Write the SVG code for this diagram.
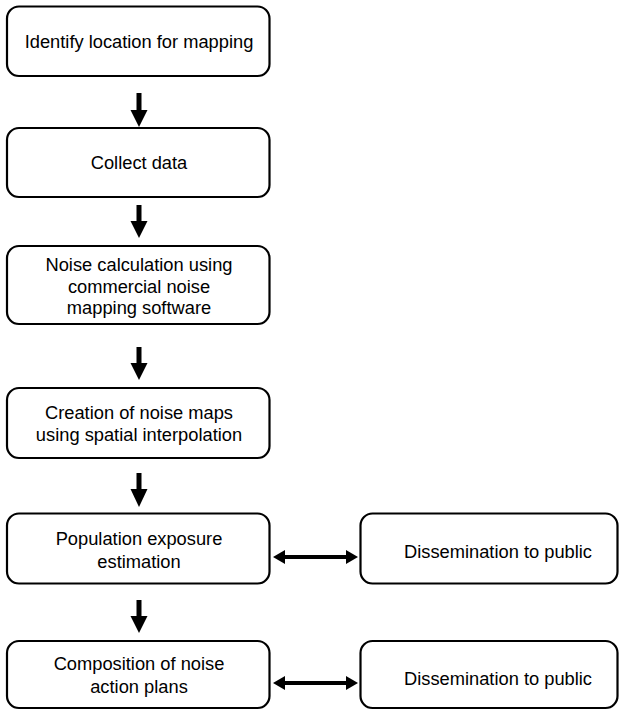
<svg xmlns="http://www.w3.org/2000/svg" width="619" height="711" viewBox="0 0 619 711">
<style>
.box{fill:#fff;stroke:#000;stroke-width:2.2}
.t{font-family:"Liberation Sans",Arial,sans-serif;font-size:18.3px;fill:#000;text-anchor:middle}
.shaft{stroke:#000;stroke-width:5;fill:none}
.dshaft{stroke:#000;stroke-width:4;fill:none}
.head{fill:#000}
</style>
<rect width="619" height="711" fill="#fff"/>
<g id="n1"><rect class="box" x="7" y="6.5" width="262.5" height="69.5" rx="12"/><text class="t" x="139" y="48">Identify location for mapping</text></g>
<g id="n2"><rect class="box" x="7" y="128" width="262.5" height="69" rx="12"/><text class="t" x="139" y="169">Collect data</text></g>
<g id="n3"><rect class="box" x="7" y="246" width="262.5" height="78" rx="12"/><text class="t" x="139" y="271">Noise calculation using</text><text class="t" x="139" y="292.5">commercial noise</text><text class="t" x="139" y="314">mapping software</text></g>
<g id="n4"><rect class="box" x="7" y="388" width="262.5" height="70" rx="12"/><text class="t" x="139" y="419">Creation of noise maps</text><text class="t" x="139" y="441">using spatial interpolation</text></g>
<g id="n5"><rect class="box" x="7" y="513.5" width="262.5" height="70" rx="12"/><text class="t" x="139" y="545">Population exposure</text><text class="t" x="139" y="567.5">estimation</text></g>
<g id="n6"><rect class="box" x="7" y="641" width="262.5" height="67" rx="12"/><text class="t" x="139" y="670">Composition of noise</text><text class="t" x="139" y="692.5">action plans</text></g>
<g id="n7"><rect class="box" x="360.5" y="513.5" width="257" height="70" rx="12"/><text class="t" x="498" y="558">Dissemination to public</text></g>
<g id="n8"><rect class="box" x="360.5" y="641" width="257" height="67" rx="12"/><text class="t" x="498" y="685">Dissemination to public</text></g>
<g id="connectors">
<line class="shaft" x1="139" y1="93" x2="139" y2="111"/><polygon class="head" points="130.5,110 147.5,110 139,127"/>
<line class="shaft" x1="139" y1="205" x2="139" y2="222"/><polygon class="head" points="130.5,221 147.5,221 139,238"/>
<line class="shaft" x1="139" y1="347" x2="139" y2="364"/><polygon class="head" points="130.5,363 147.5,363 139,380"/>
<line class="shaft" x1="139" y1="473" x2="139" y2="490"/><polygon class="head" points="130.5,489 147.5,489 139,507"/>
<line class="shaft" x1="139" y1="600" x2="139" y2="617"/><polygon class="head" points="130.5,616 147.5,616 139,633"/>
<line class="dshaft" x1="283" y1="557" x2="348" y2="557"/><polygon class="head" points="273,557 285,550 285,564"/><polygon class="head" points="358,557 346,550 346,564"/>
<line class="dshaft" x1="283" y1="683" x2="348" y2="683"/><polygon class="head" points="273,683 285,676 285,690"/><polygon class="head" points="358,683 346,676 346,690"/>
</g>
</svg>
